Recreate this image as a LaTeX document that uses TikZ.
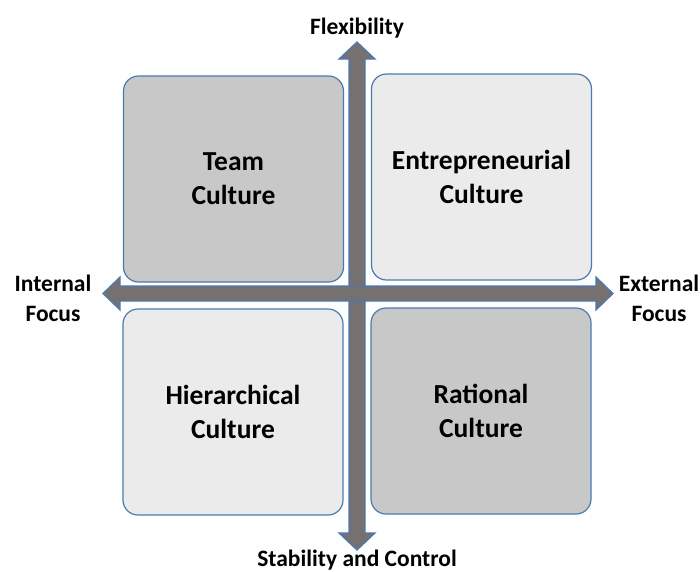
\documentclass[tikz,border=0pt]{standalone}
\usepackage{fontspec}
\setmainfont{Carlito}
\begin{document}
\begin{tikzpicture}[x=1pt,y=-1pt,
  quad/.style={draw=edgeblue, line width=1.2pt, rounded corners=15pt,
    minimum width=220pt, minimum height=206pt, inner sep=0pt,
    align=center, font=\bfseries\fontsize{27.5}{34}\selectfont},
  darkq/.style={quad, fill=boxdark},
  lightq/.style={quad, fill=boxlight},
  axislabel/.style={font=\bfseries\fontsize{23.5}{30}\selectfont, align=center, inner sep=0pt},
  axisbar/.style={fill=arrowgray, draw=edgeblue, line width=1.2pt, line join=miter}]
\definecolor{edgeblue}{HTML}{4A7AB0}
\definecolor{boxdark}{HTML}{C8C8C8}
\definecolor{boxlight}{HTML}{EBEBEB}
\definecolor{arrowgray}{HTML}{767171}
\useasboundingbox (0,0) rectangle (700,571);

% quadrants
\node[darkq]  (team)  at (233.5,179) {Team\\Culture};
\node[lightq] (entre) at (481.5,177) {Entrepreneurial\\Culture};
\node[lightq] (hier)  at (233,412)   {Hierarchical\\Culture};
\node[darkq]  (rat)   at (481,411)   {Rational\\Culture};

% vertical axis (double-headed block arrow)
\draw[axisbar] (357,42) -- (375,59) -- (365,59) -- (365,533) -- (375,533)
  -- (357,550) -- (339,533) -- (349,533) -- (349,59) -- (339,59) -- cycle;

% horizontal axis, drawn over the vertical one
\draw[axisbar] (103,293.5) -- (120,277) -- (120,286) -- (596,286) -- (596,277)
  -- (613,293.5) -- (596,310) -- (596,301) -- (120,301) -- (120,310) -- cycle;

% axis labels
\node[axislabel] (flex)  at (357,28)  {Flexibility};
\node[axislabel] (stab)  at (357,560) {Stability and Control};
\node[axislabel] (intf)  at (53,298)  {Internal\\Focus};
\node[axislabel] (extf)  at (659,298) {External\\Focus};
\end{tikzpicture}
\end{document}
